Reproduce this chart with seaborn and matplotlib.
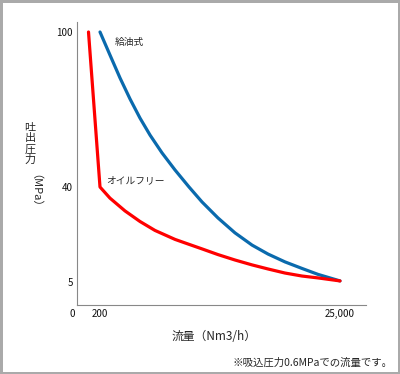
import numpy as np
import pandas as pd
import seaborn as sns
import matplotlib.pyplot as plt
import matplotlib.transforms as mtransforms

# data (flow Nm3/h, pressure)
oil_free_flow = [100, 200, 1230, 2780, 4330, 5880, 7950, 8980, 10740, 12390,
                 14150, 15910, 17560, 19320, 21070, 22730, 25000]
oil_free_press = [100, 40, 35.9, 31.2, 27.3, 24.0, 20.7, 19.4, 17.2, 15.1,
                  13.1, 11.3, 9.8, 8.3, 7.2, 6.5, 5.4]
oiled_flow = [200, 1230, 2270, 3300, 4330, 5370, 6610, 7950, 9400, 10740,
              12390, 14150, 15910, 17560, 19320, 21070, 22730, 25000]
oiled_press = [100, 91.1, 82.2, 74.1, 66.7, 60.1, 53.2, 46.6, 40, 34.5,
               28.6, 23.1, 18.6, 15.3, 12.4, 10.0, 7.8, 5.4]
x_ticks = [0, 200, 25000]
x_ticklabels = ["0", "200", "25,000"]
y_ticks = [5, 40, 100]
y_ticklabels = ["5", "40", "100"]

df_free = pd.DataFrame({"flow": oil_free_flow, "press": oil_free_press})
df_oil = pd.DataFrame({"flow": oiled_flow, "press": oiled_press})

sns.set_style("white")
plt.rcParams["font.family"] = ["Noto Sans CJK JP", "DejaVu Sans"]

fig = plt.figure(figsize=(4, 3.74), dpi=100)
ax = fig.add_axes([77 / 400, 69 / 374, 289 / 400, 283 / 374])

# schematic (non-uniform) axes, as in the original
xa, xp = [0, 200, 25000, 27700], [0, 23, 263, 289]
ya, yp = [0, 5, 40, 100, 104], [0, 23, 118, 273, 283]
ax.set_xscale("function", functions=(lambda v: np.interp(v, xa, xp),
                                     lambda v: np.interp(v, xp, xa)))
ax.set_yscale("function", functions=(lambda v: np.interp(v, ya, yp),
                                     lambda v: np.interp(v, yp, ya)))

sns.lineplot(data=df_oil, x="flow", y="press", color="#0a6aad", lw=2.3,
             sort=False, estimator=None, ax=ax)
sns.lineplot(data=df_free, x="flow", y="press", color="#ff0000", lw=2.3,
             sort=False, estimator=None, ax=ax)

ax.set_xlim(0, 27700)
ax.set_ylim(0, 104)
ax.set_xticks(x_ticks)
ax.set_xticklabels(x_ticklabels)
ax.set_yticks(y_ticks)
ax.set_yticklabels(y_ticklabels)
ax.tick_params(direction="in", length=3.6, width=0.8, color="#888888",
               labelsize=7, pad=3, labelcolor="#111111")
zero_lbl = ax.xaxis.get_majorticklabels()[0]
zero_lbl.set_transform(zero_lbl.get_transform()
                       + mtransforms.ScaledTranslation(-5 / 100, 0, fig.dpi_scale_trans))
for s in ["top", "right"]:
    ax.spines[s].set_visible(False)
for s in ["left", "bottom"]:
    ax.spines[s].set_color("#888888")
    ax.spines[s].set_linewidth(0.8)

ax.set_xlabel("流量（Nm3/h）", fontsize=8.5, va="center")
ax.xaxis.set_label_coords((214 - 77) / 289, (305 - 337) / 283)
ax.set_ylabel("")

fig.text(30 / 400, 1 - 144 / 374, "吐\n出\n圧\n力", fontsize=8, ha="center",
         va="center", linespacing=1.1)
fig.text(30 / 400, 1 - 196 / 374, "（MPa）", fontsize=8, ha="center",
         va="center", rotation=-90)

ax.text(1750, 96, "給油式", fontsize=7, va="center", ha="left")
ax.text(820, 42.7, "オイルフリー", fontsize=7, va="center", ha="left")

fig.text(392 / 400, 1 - 363 / 374, "※吸込圧力0.6MPaでの流量です。", fontsize=7.5,
         ha="right", va="center")

fig.patch.set_edgecolor("#aaaaaa")
fig.patch.set_linewidth(2.5)

plt.savefig("out.png", dpi=100)
